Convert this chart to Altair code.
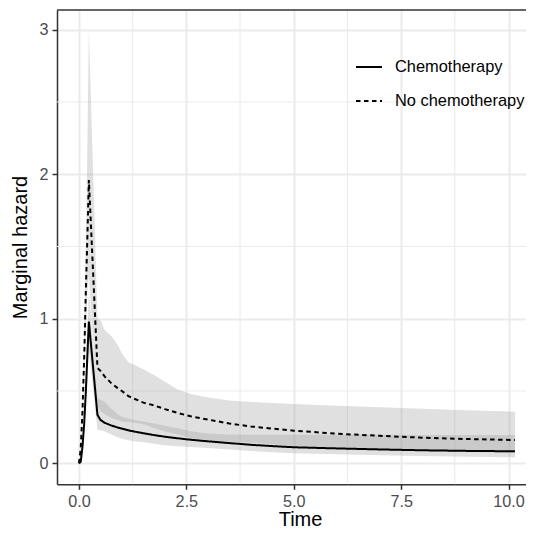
import altair as alt
import pandas as pd

FONT = "Liberation Sans"

time = [0, 0.04, 0.08, 0.12, 0.16, 0.2, 0.23, 0.43, 0.5, 0.6, 0.75, 0.9, 1.0, 1.15, 1.3,
        1.5, 1.75, 2.0, 2.3, 2.6, 3.0, 3.5, 4.0, 4.5, 5.0, 6.0, 7.0, 8.0, 9.0, 10.15]

chemo = [0, 0.01, 0.11, 0.27, 0.5, 0.78, 0.98, 0.335, 0.30, 0.28, 0.262, 0.248, 0.24, 0.228, 0.219,
         0.208, 0.195, 0.184, 0.173, 0.163, 0.152, 0.14, 0.128, 0.119, 0.111, 0.103, 0.096, 0.09, 0.086, 0.083]
chemo_lo = [0, 0.005, 0.08, 0.2, 0.38, 0.6, 0.78, 0.23, 0.228, 0.22, 0.2, 0.18, 0.17, 0.16, 0.153,
            0.145, 0.135, 0.125, 0.118, 0.112, 0.105, 0.095, 0.085, 0.077, 0.07, 0.062, 0.055, 0.05, 0.045, 0.041]
chemo_hi = [0, 0.02, 0.15, 0.35, 0.62, 0.95, 1.2, 0.45, 0.44, 0.425, 0.38, 0.34, 0.32, 0.31, 0.30,
            0.29, 0.275, 0.26, 0.243, 0.222, 0.207, 0.2, 0.198, 0.198, 0.198, 0.197, 0.197, 0.196, 0.196, 0.196]

nochemo = [0, 0.1, 0.35, 0.72, 1.2, 1.62, 1.96, 0.66, 0.64, 0.6, 0.555, 0.52, 0.5, 0.465, 0.445,
           0.42, 0.40, 0.375, 0.348, 0.325, 0.303, 0.275, 0.255, 0.24, 0.226, 0.205, 0.19, 0.177, 0.168, 0.161]
nochemo_lo = [0, 0.08, 0.27, 0.58, 0.95, 1.2, 1.3, 0.4, 0.36, 0.34, 0.315, 0.3, 0.29, 0.285, 0.28,
              0.27, 0.245, 0.22, 0.2, 0.175, 0.158, 0.15, 0.143, 0.132, 0.12, 0.105, 0.093, 0.085, 0.078, 0.072]
nochemo_hi = [0, 0.12, 0.42, 0.9, 1.5, 2.3, 3.0, 1.0, 0.99, 0.92, 0.88, 0.82, 0.76, 0.70, 0.68,
              0.65, 0.61, 0.565, 0.51, 0.48, 0.455, 0.435, 0.425, 0.417, 0.41, 0.398, 0.387, 0.377, 0.367, 0.357]

groups = ["Chemotherapy", "No chemotherapy"]
x_ticks = [0, 2.5, 5, 7.5, 10]
y_ticks = [0, 1, 2, 3]
x_minor = [1.25, 3.75, 6.25, 8.75]
y_minor = [0.5, 1.5, 2.5]

df = pd.concat([
    pd.DataFrame({"Time": time, "hazard": chemo, "lo": chemo_lo, "hi": chemo_hi, "group": groups[0]}),
    pd.DataFrame({"Time": time, "hazard": nochemo, "lo": nochemo_lo, "hi": nochemo_hi, "group": groups[1]}),
], ignore_index=True)

XMIN, XMAX = -0.512, 10.407
YMIN, YMAX = -0.1453, 3.1364
W, H = 469, 474.3

xs = alt.Scale(domain=[XMIN, XMAX], nice=False, zero=False)
ys = alt.Scale(domain=[YMIN, YMAX], nice=False, zero=False)

x_axis = alt.Axis(values=x_ticks, format=".1f", title="Time", labelPadding=4, labelFlush=False,
                  labelOverlap=False, titleX=243, titleY=41, titleBaseline="alphabetic",
                  titleAlign="center")
y_axis = alt.Axis(values=y_ticks, format="d", title="Marginal hazard", labelPadding=4,
                  labelOverlap=False, titleX=-37, titleY=237, titleAngle=-90,
                  titleBaseline="middle", titleAlign="center")

base = alt.Chart(df)

minor_v = alt.Chart(pd.DataFrame({"v": x_minor})).mark_rule(color="#EBEBEB", strokeWidth=1.1).encode(
    x=alt.X("v:Q", scale=xs))
minor_h = alt.Chart(pd.DataFrame({"v": y_minor})).mark_rule(color="#EBEBEB", strokeWidth=1.1).encode(
    y=alt.Y("v:Q", scale=ys))

bands = base.mark_area(color="#999999", opacity=0.3).encode(
    x=alt.X("Time:Q", scale=xs),
    y=alt.Y("lo:Q", scale=ys),
    y2="hi:Q",
    detail="group:N",
)

lines = base.mark_line(color="black", strokeWidth=2).encode(
    x=alt.X("Time:Q", scale=xs, axis=x_axis),
    y=alt.Y("hazard:Q", scale=ys, axis=y_axis),
    strokeDash=alt.StrokeDash(
        "group:N",
        scale=alt.Scale(domain=groups, range=[[1, 0], [4.5, 3.5]]),
        legend=alt.Legend(title=None, orient="none", legendX=298, legendY=43,
                          symbolType="stroke", symbolSize=676, symbolStrokeWidth=2,
                          symbolStrokeColor="black", labelFontSize=16.4, labelFont=FONT,
                          labelColor="black", labelOffset=12, rowPadding=11, padding=0),
    ),
)

top_border = alt.Chart(pd.DataFrame({"v": [YMAX]})).mark_rule(color="#333333", strokeWidth=1.5).encode(
    y=alt.Y("v:Q", scale=ys))

chart = alt.layer(minor_v, minor_h, bands, lines, top_border).properties(
    width=W, height=H,
    autosize=alt.AutoSizeParams(type="none"),
    padding={"left": 49, "top": 2, "right": 0, "bottom": 45.7},
    background="white",
).configure_view(strokeWidth=0, stroke="transparent").configure_axis(
    domainColor="#333333", domainWidth=1.5, tickColor="#333333", tickWidth=1.5, tickSize=5,
    labelColor="#4D4D4D", labelFontSize=16.2, labelFont=FONT, titleFont=FONT, titleFontSize=20,
    titleColor="black", titleFontWeight="normal", grid=True, gridColor="#EBEBEB", gridWidth=2,
).configure_axisRight(disable=True).configure_axisTop(disable=True)

chart.save("out.html", embed_options={"renderer": "svg", "actions": False})
